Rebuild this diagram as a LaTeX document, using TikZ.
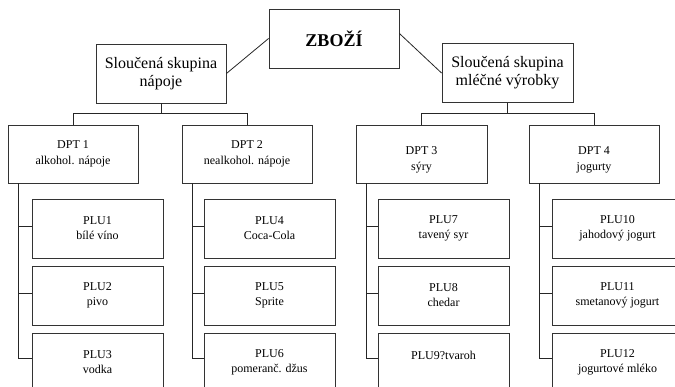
\documentclass[tikz,border=0pt]{standalone}
\usepackage{fontspec}
\setmainfont{Liberation Serif}
\begin{document}
\begin{tikzpicture}[x=1pt,y=-1pt,
  box/.style={draw=black!80,line width=0.9pt,align=center,inner sep=0pt},
  topbox/.style={box,minimum width=130pt,minimum height=59pt,font=\fontsize{18}{21}\selectfont\bfseries},
  grpbox/.style={box,minimum width=130pt,minimum height=59pt,font=\fontsize{16}{18}\selectfont},
  dptbox/.style={box,minimum width=130pt,minimum height=58pt,font=\fontsize{12}{15.5}\selectfont},
  plubox/.style={box,minimum width=131pt,minimum height=59pt,font=\fontsize{12}{15}\selectfont},
  link/.style={draw=black!85,line width=0.8pt}]
\useasboundingbox (0,0) rectangle (675,386);
\clip (0,0) rectangle (675,386);

\node[topbox] (z) at (334,38.5) {ZBOŽÍ};
\node[grpbox] (g1) at (161,73.5) {Sloučená skupina\\nápoje};
\node[grpbox,minimum width=131pt] (g2) at (507.5,73) {Sloučená skupina\\mléčné výrobky};

\node[dptbox] (d1) at (73,154) {DPT 1\\alkohol. nápoje};
\node[dptbox] (d2) at (247,154) {DPT 2\\nealkohol. nápoje};
\node[dptbox,minimum width=131pt] (d3) at (421.5,154) {\rule{0pt}{20pt}DPT 3\\sýry};
\node[dptbox] (d4) at (594,154) {\rule{0pt}{20pt}DPT 4\\jogurty};

\node[plubox] (p1) at (97.5,228.5) {PLU1\\bílé víno};
\node[plubox] (p2) at (97.5,295.5) {PLU2\\pivo};
\node[plubox] (p3) at (97.5,362.5) {PLU3\\vodka};
\node[plubox] (p4) at (269.5,228.5) {PLU4\\Coca-Cola};
\node[plubox] (p5) at (269.5,295.5) {PLU5\\Sprite};
\node[plubox] (p6) at (269.5,362.5) {PLU6\\pomeranč. džus};
\node[plubox] (p7) at (443.5,228.5) {PLU7\\tavený syr};
\node[plubox] (p8) at (443.5,295.5) {PLU8\\chedar};
\node[plubox] (p9) at (443.5,362.5) {PLU9?tvaroh\\\mbox{}};
\node[plubox] (p10) at (617.5,228.5) {PLU10\\jahodový jogurt};
\node[plubox] (p11) at (617.5,295.5) {PLU11\\smetanový jogurt};
\node[plubox] (p12) at (617.5,362.5) {PLU12\\jogurtové mléko};

\draw[link] (z.west) -- (g1.east);
\draw[link] ([yshift=5pt]z.east) -- (g2.west);

\draw[link] (g1.south) -- ++(0,10) -| (d1.north);
\draw[link] (g1.south) -- ++(0,10) -| (d2.north);
\draw[link] (g2.south) -- ++(0,10) -| (d3.north);
\draw[link] (g2.south) -- ++(0,10) -| (d4.north);

\foreach \d/\a/\b/\c in {d1/p1/p2/p3, d2/p4/p5/p6, d3/p7/p8/p9, d4/p10/p11/p12}{
  \coordinate (t\d) at ([xshift=10.5pt]\d.south west);
  \coordinate (c\a) at ([yshift=2.5pt]\a.west);
  \coordinate (c\b) at ([yshift=2.5pt]\b.west);
  \coordinate (c\c) at ([yshift=4pt]\c.west);
  \draw[link] (t\d) |- (c\c);
  \draw[link] (t\d |- c\a) -- (c\a);
  \draw[link] (t\d |- c\b) -- (c\b);
}
\end{tikzpicture}
\end{document}
